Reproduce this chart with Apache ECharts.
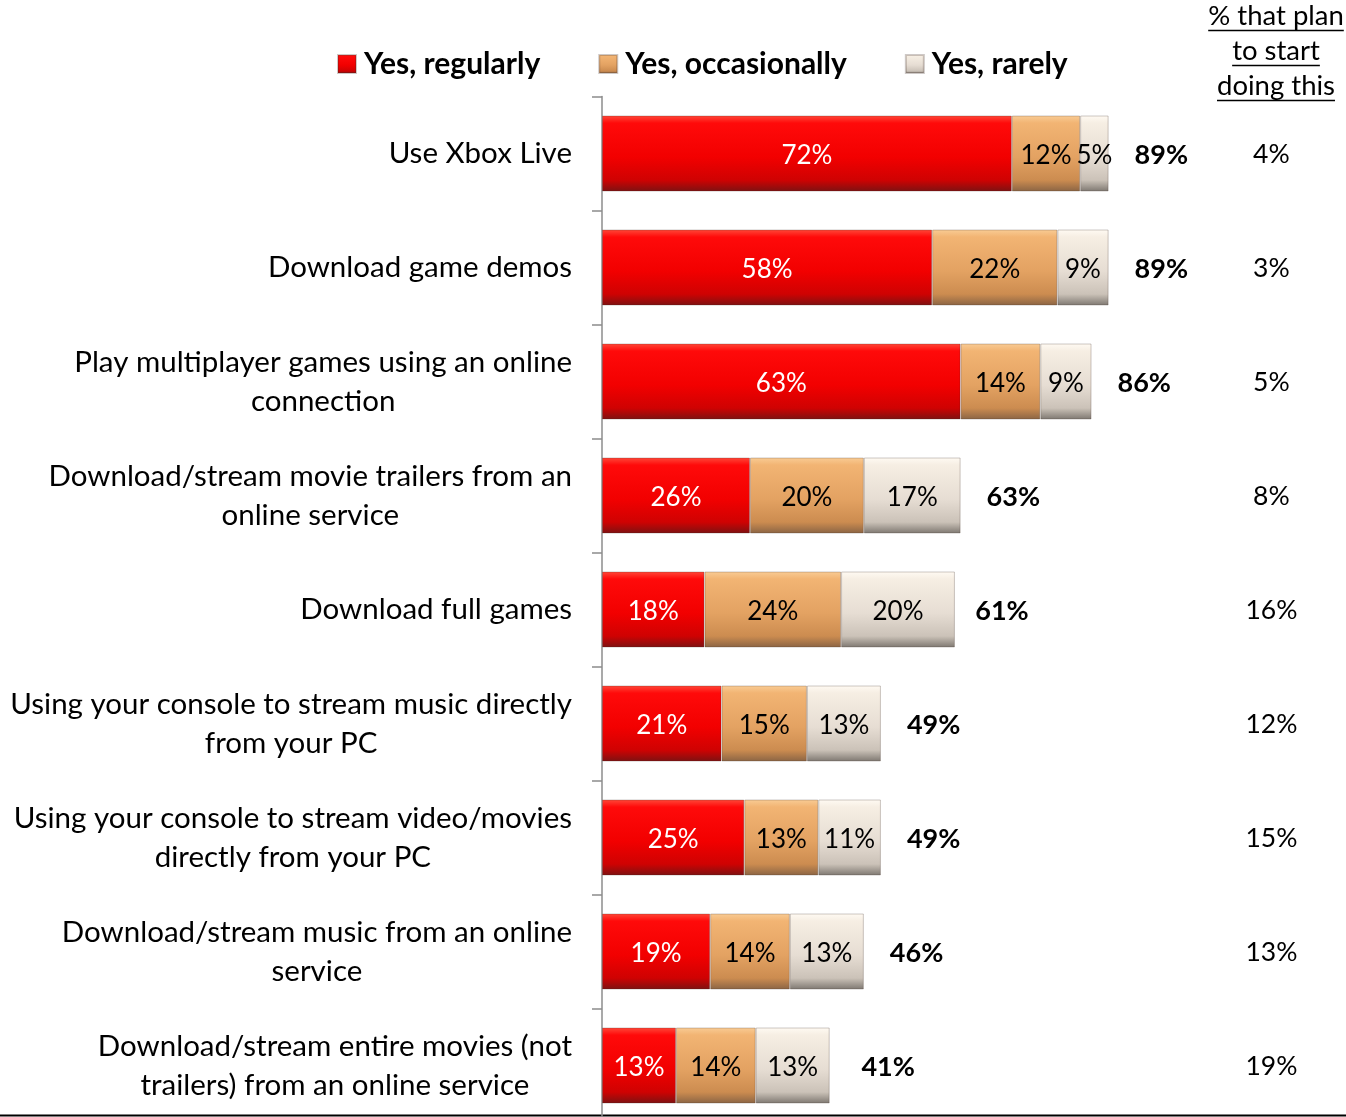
<!DOCTYPE html>
<html>
<head>
<meta charset="utf-8">
<script src="https://cdn.jsdelivr.net/npm/echarts@6/dist/echarts.min.js"></script>
<style>
  html, body { margin: 0; padding: 0; background: #fff; overflow: hidden; }
  #chart { width: 1346px; height: 1130px; }
</style>
</head>
<body>
<div id="chart"></div>
<script>
// Online activities on the console, share of respondents
const categories = [
  'Use Xbox Live',
  'Download game demos',
  'Play multiplayer games using an online\nconnection',
  'Download/stream movie trailers from an\nonline service',
  'Download full games',
  'Using your console to stream music directly\nfrom your PC',
  'Using your console to stream video/movies\ndirectly from your PC',
  'Download/stream music from an online\nservice',
  'Download/stream entire movies (not\ntrailers) from an online service'
];
const seriesNames = ['Yes, regularly', 'Yes, occasionally', 'Yes, rarely'];
const regularly    = [72, 58, 63, 26, 18, 21, 25, 19, 13];
const occasionally = [12, 22, 14, 20, 24, 15, 13, 14, 14];
const rarely       = [5, 9, 9, 17, 20, 13, 11, 13, 13];
const totals       = [89, 89, 86, 63, 61, 49, 49, 46, 41];
const planToStart  = [4, 3, 5, 8, 16, 12, 15, 13, 19];
const planHeader   = ['% that plan', 'to start', 'doing this'];

const FONT = 'Lato, "Noto Sans", sans-serif';
const PLAN_X = 117.6;   // x-axis position of the "plan to start" column

function grad(stops) {
  return new echarts.graphic.LinearGradient(0, 0, 0, 1,
    stops.map((c, i) => ({ offset: [0, 0.1, 0.55, 0.85, 1][i], color: c })));
}
const fills = [
  grad(['#ff4a3a', '#ff0a0a', '#f20000', '#cf0202', '#7c1212']),
  grad(['#f9cc95', '#f2b473', '#e3a262', '#cc8c50', '#8a6444']),
  grad(['#fffaf3', '#f6eee3', '#e6ddd3', '#cbc2b8', '#7d7770'])
];
const labelColors = ['#ffffff', '#000000', '#000000'];
const values = [regularly, occasionally, rarely];

const chart = echarts.init(document.getElementById('chart'), null, { renderer: 'canvas' });

// header over the right-hand column, each line underlined
const HEADER_FONT = '27.5px ' + FONT;
const ctx = document.createElement('canvas').getContext('2d');
ctx.font = HEADER_FONT;
const headerX = 1276;
const underlineY = [30.5, 65.5, 100.5];
const headerGraphics = [];
planHeader.forEach((t, i) => {
  const w = ctx.measureText(t).width;
  headerGraphics.push({
    type: 'text', left: headerX - w / 2, top: underlineY[i] - 28,
    style: { text: t, font: HEADER_FONT, fill: '#000' }
  });
  headerGraphics.push({
    type: 'line',
    shape: { x1: headerX - w / 2, y1: underlineY[i], x2: headerX + w / 2, y2: underlineY[i] },
    style: { stroke: '#000', lineWidth: 1.5 }
  });
});

const barSeries = values.map((arr, k) => ({
  name: seriesNames[k],
  type: 'bar',
  stack: 'all',
  barWidth: 76,
  data: arr,
  itemStyle: { color: fills[k], borderColor: 'rgba(60,40,30,0.25)', borderWidth: 1 },
  label: {
    show: true, position: 'inside', offset: [0, 2],
    formatter: p => p.value + '%',
    color: labelColors[k], fontSize: 26, fontFamily: FONT
  }
}));

chart.setOption({
  animation: false,
  backgroundColor: '#fff',
  legend: {
    top: 44, left: 332,
    itemWidth: 18, itemHeight: 18, itemGap: 58,
    icon: 'rect',
    textStyle: { fontSize: 30, fontWeight: 'bold', fontFamily: FONT, color: '#000', padding: [0, 0, 0, 3] },
    data: seriesNames
  },
  grid: { left: 602, top: 96.5, width: 740, height: 1026, containLabel: false },
  xAxis: { type: 'value', min: 0, max: 130, show: false },
  yAxis: {
    type: 'category', data: categories, inverse: true,
    axisLine: { show: true, lineStyle: { color: '#8c8c8c', width: 1.5 } },
    axisTick: { show: true, length: 10, lineStyle: { color: '#8c8c8c', width: 1.5 } },
    axisLabel: {
      margin: 30, align: 'right',
      formatter: v => v.split('\n').map(l => '{c|' + l + '}').join('\n'),
      rich: { c: { fontSize: 29.5, fontFamily: FONT, color: '#000', align: 'center', lineHeight: 39 } }
    },
    splitLine: { show: false }
  },
  series: [
    ...barSeries,
    {
      name: 'total', type: 'scatter', symbolSize: 0, silent: true,
      itemStyle: { opacity: 1 },
      data: totals.map((t, i) => [t, i]),
      label: {
        show: true, position: 'right', distance: 26, offset: [0, 2],
        formatter: p => totals[p.dataIndex] + '%',
        fontSize: 27, fontWeight: 'bold', fontFamily: FONT, color: '#000'
      }
    },
    {
      name: 'plan', type: 'scatter', symbolSize: 0, silent: true,
      itemStyle: { opacity: 1 },
      data: planToStart.map((v, i) => [PLAN_X, i]),
      label: {
        show: true, position: 'inside', offset: [0, 1],
        formatter: p => planToStart[p.dataIndex] + '%',
        fontSize: 26.5, fontFamily: FONT, color: '#000'
      }
    }
  ],
  graphic: [
    ...headerGraphics,
    { type: 'line', shape: { x1: 0, y1: 1115.5, x2: 1346, y2: 1115.5 }, style: { stroke: '#000', lineWidth: 2 } }
  ]
});
</script>
</body>
</html>
